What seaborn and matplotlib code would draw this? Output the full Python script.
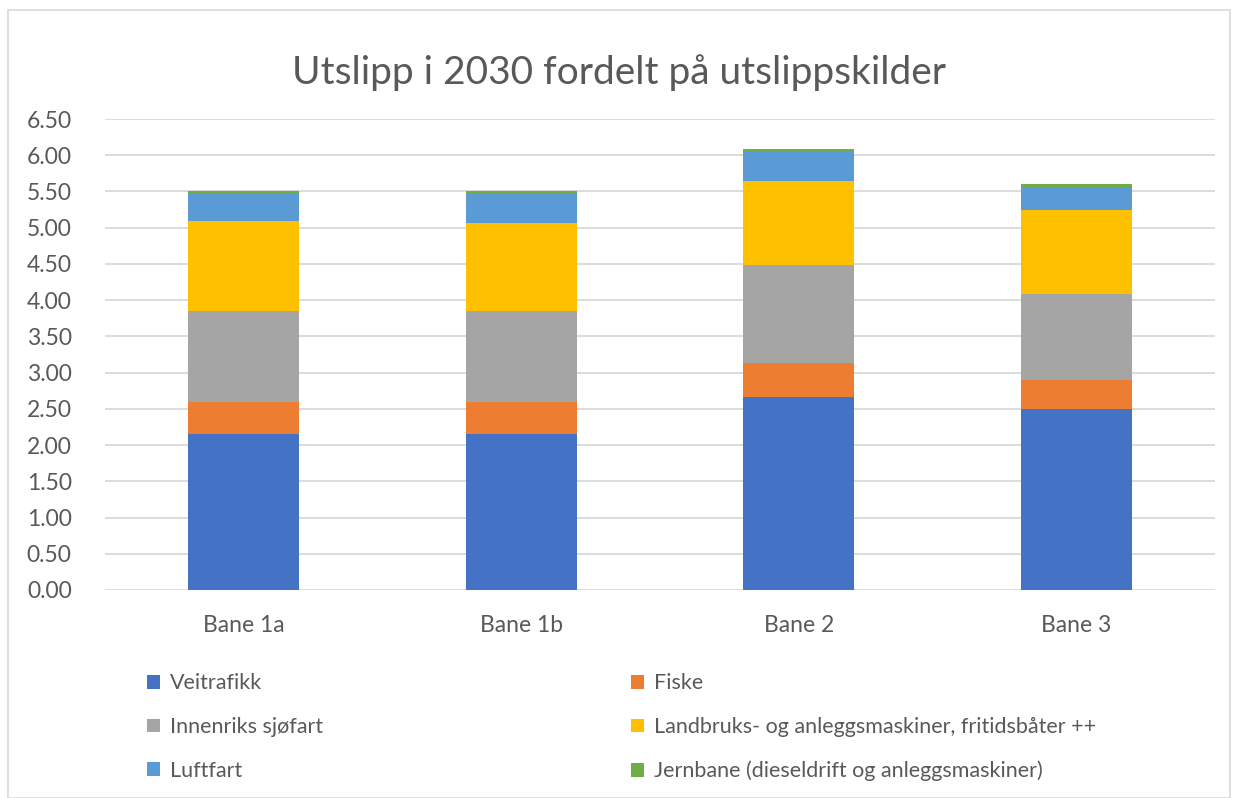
import numpy as np
import pandas as pd
import matplotlib.pyplot as plt
import seaborn as sns
from matplotlib.patches import Patch, Rectangle

# data (Mt CO2-eq per source)
scenarios = ["Bane 1a", "Bane 1b", "Bane 2", "Bane 3"]
sources = [
    "Veitrafikk",
    "Fiske",
    "Innenriks sjøfart",
    "Landbruks- og anleggsmaskiner, fritidsbåter ++",
    "Luftfart",
    "Jernbane (dieseldrift og anleggsmaskiner)",
]
veitrafikk = [2.15, 2.15, 2.67, 2.50]
fiske = [0.44, 0.44, 0.46, 0.40]
sjofart = [1.26, 1.26, 1.35, 1.18]
landbruk = [1.24, 1.22, 1.16, 1.16]
luftfart = [0.39, 0.40, 0.40, 0.32]
jernbane = [0.03, 0.03, 0.04, 0.04]
colors = ["#4472C4", "#ED7D31", "#A5A5A5", "#FFC000", "#5B9BD5", "#70AD47"]

series = [veitrafikk, fiske, sjofart, landbruk, luftfart, jernbane]
df = pd.DataFrame(dict(zip(sources, series)), index=scenarios)
cum = df.cumsum(axis=1)

sns.set_theme(style="white")
plt.rcParams["font.family"] = ["Lato", "DejaVu Sans"]
text_col = "#595959"

fig = plt.figure(figsize=(12.39, 7.98), dpi=100)
ax = fig.add_axes([105 / 1239, 1 - 590 / 798, 1110 / 1239, 471 / 798])

# stacked bars: draw cumulative totals from the top down
for src, col in reversed(list(zip(sources, colors))):
    d = pd.DataFrame({"bane": scenarios, "val": cum[src].values})
    sns.barplot(data=d, x="bane", y="val", color=col, width=0.4,
                saturation=1, linewidth=0, ax=ax, zorder=3)

ax.set_ylim(0, 6.5)
ax.set_yticks(np.arange(0, 6.51, 0.5))
ax.set_yticklabels([f"{v:.2f}" for v in np.arange(0, 6.51, 0.5)])
ax.yaxis.grid(True, color="#D9D9D9", linewidth=1.3, zorder=0)
ax.set_axisbelow(True)
for s in ax.spines.values():
    s.set_visible(False)
ax.tick_params(axis="both", length=0, labelsize=16.5, labelcolor=text_col)
ax.tick_params(axis="y", pad=24)
ax.tick_params(axis="x", pad=18)
ax.set_xlabel("")
ax.set_ylabel("")

fig.text(0.5, 1 - 73 / 798, "Utslipp i 2030 fordelt på utslippskilder",
         ha="center", va="center", fontsize=28, color=text_col)

# legend in two columns, row-wise order like the original
order = [0, 2, 4, 1, 3, 5]
handles = [Patch(facecolor=colors[i], edgecolor="none") for i in order]
labels = [sources[i] for i in order]
fig.legend(handles, labels, ncol=2, loc="upper left",
           bbox_to_anchor=(128 / 1239, 1 - 654 / 798), frameon=False,
           fontsize=15.5, labelcolor=text_col, handlelength=0.6,
           handleheight=0.6, handletextpad=0.45, columnspacing=14.3,
           labelspacing=1.1)

fig.patches.append(Rectangle((8 / 1239, 0), 1222 / 1239, 1 - 10 / 798,
                             transform=fig.transFigure, fill=False,
                             edgecolor="#D9D9D9", linewidth=1.2))

fig.savefig("out.png", dpi=100)
